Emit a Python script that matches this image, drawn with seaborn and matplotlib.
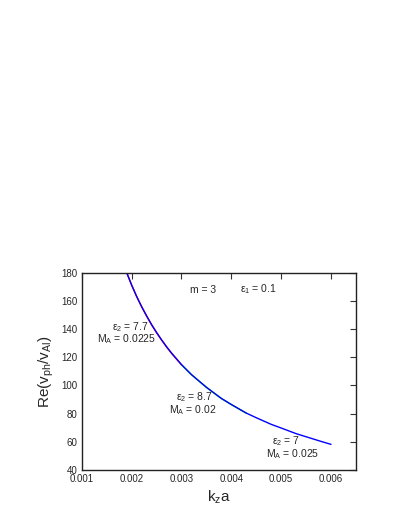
import matplotlib
matplotlib.use("Agg")
import matplotlib.pyplot as plt
import seaborn as sns
import pandas as pd

sns.set_theme(style="white")
plt.rcParams['font.family'] = ['Liberation Sans', 'DejaVu Sans']
plt.rcParams['mathtext.fontset'] = 'custom'
plt.rcParams['mathtext.rm'] = 'Liberation Sans'
plt.rcParams['mathtext.it'] = 'Liberation Sans'
plt.rcParams['mathtext.default'] = 'regular'

k_blue = [0.0019, 0.002, 0.0021, 0.0022, 0.0023, 0.0024, 0.0025, 0.0026, 0.0027, 0.0028, 0.003, 0.0032,
          0.0035, 0.0038, 0.004, 0.0043, 0.0045, 0.0048, 0.005, 0.0053, 0.0055, 0.0058, 0.006]
v_blue = [180, 171.2, 163.2, 156, 149.4, 143.2, 137.6, 132.4, 127.5, 123, 114.8, 107.7,
          98.7, 90.8, 86.5, 80.4, 77.1, 72.4, 69.8, 65.8, 63.6, 60.3, 58.2]
k_red = [0.0019, 0.002, 0.0021, 0.0022, 0.0023, 0.0024, 0.0025, 0.0026, 0.0027, 0.0028, 0.003]
v_red = [180.3, 171.2, 163.1, 155.8, 149.2, 143.0, 137.4, 132.2, 127.3, 122.8, 114.6]
k_green = [0.003, 0.0032, 0.0035, 0.0038, 0.004, 0.0043]
v_green = [114.6, 107.6, 98.6, 90.7, 86.4, 80.3]

fig = plt.figure(figsize=(4.11, 5.32), dpi=100)
ax = fig.add_axes([0.199, 0.1165, 0.667, 0.371])
for k, v, c in [(k_red, v_red, '#ff0000'), (k_green, v_green, '#00cc00'), (k_blue, v_blue, '#0000ff')]:
    sns.lineplot(data=pd.DataFrame({'k': k, 'v': v}), x='k', y='v', color=c, lw=1.0, ax=ax, estimator=None, sort=False)
ax.set_xlim(0.001, 0.0065)
ax.set_ylim(40, 180)
ax.set_xticks([0.001, 0.002, 0.003, 0.004, 0.005, 0.006])
ax.set_xticklabels(['0.001', '0.002', '0.003', '0.004', '0.005', '0.006'])
ax.set_yticks(range(40, 181, 20))
ax.tick_params(direction='in', length=4, width=0.8, top=True, right=True, labelsize=7, pad=3, color='#333333')
for s in ax.spines.values():
    s.set_color('#222222'); s.set_linewidth(1.0)
ax.set_xlabel(r'k$_z$a', fontsize=11, labelpad=3)
ax.set_ylabel(r'Re(v$_{ph}$/v$_{Al}$)', fontsize=11, labelpad=4)
fs = 7.5
ax.text(0.00344, 167.7, 'm = 3', fontsize=fs, ha='center', va='center')
ax.text(0.00454, 168, r'$\varepsilon_1$ = 0.1', fontsize=fs, ha='center', va='center')
ax.text(0.00197, 141.5, r'$\varepsilon_2$ = 7.7', fontsize=fs, ha='center', va='center')
ax.text(0.0019, 132.8, r'M$_A$ = 0.0225', fontsize=fs, ha='center', va='center')
ax.text(0.00325, 91.5, r'$\varepsilon_2$ = 8.7', fontsize=fs, ha='center', va='center')
ax.text(0.00323, 82.5, r'M$_A$ = 0.02', fontsize=fs, ha='center', va='center')
ax.text(0.0051, 60.5, r'$\varepsilon_2$ = 7', fontsize=fs, ha='center', va='center')
ax.text(0.00523, 51.5, r'M$_A$ = 0.025', fontsize=fs, ha='center', va='center')
fig.savefig('out.png', dpi=100)
